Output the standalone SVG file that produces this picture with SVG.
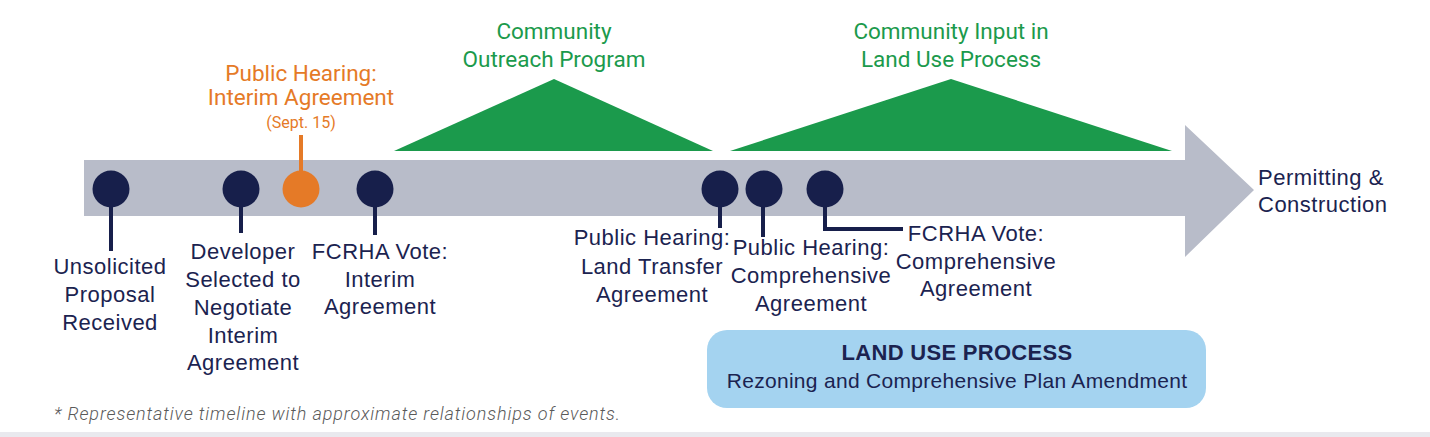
<svg xmlns="http://www.w3.org/2000/svg" width="1430" height="437" viewBox="0 0 1430 437">
<style>
.nv{font-family:"Liberation Sans",Arial,sans-serif;font-size:22px;letter-spacing:0.5px;fill:#1b2350;text-anchor:middle}
.gr{font-family:Roboto,"Liberation Sans",sans-serif;font-size:22.5px;fill:#1b9a4c;text-anchor:middle}
.or{font-family:Roboto,"Liberation Sans",sans-serif;font-size:22.5px;fill:#e57a27;text-anchor:middle}
.dot{fill:#171f4b}
.stem{stroke:#171f4b;stroke-width:4;fill:none}
.tri{fill:#1b9a4c}
</style>
<rect x="0" y="0" width="1430" height="437" fill="#ffffff"/>
<rect x="0" y="432" width="1430" height="5" fill="#e9e9ee"/>
<g id="timeline-arrow">
<polygon points="84,160 1185,160 1185,125 1254,190 1185,257 1185,216 84,216" fill="#b8bcc9"/>
</g>
<g id="outreach">
<polygon class="tri" points="394,151 554,79 713,151"/>
<text class="gr" x="554" y="39">Community</text>
<text class="gr" x="554" y="67">Outreach Program</text>
</g>
<g id="community-input">
<polygon class="tri" points="730,151 951,79 1172,151"/>
<text class="gr" x="951" y="39">Community Input in</text>
<text class="gr" x="951" y="67">Land Use Process</text>
</g>
<g id="connectors">
<line class="stem" x1="111" y1="189" x2="111" y2="251"/>
<line class="stem" x1="241" y1="189" x2="241" y2="233"/>
<line class="stem" x1="375" y1="189" x2="375" y2="235"/>
<line x1="301" y1="189" x2="301" y2="135" stroke="#e57a27" stroke-width="4"/>
<line class="stem" x1="720" y1="189" x2="720" y2="228"/>
<line class="stem" x1="763" y1="189" x2="763" y2="237"/>
<path class="stem" d="M825,189 V229 H903"/>
</g>
<g id="e1">
<circle class="dot" cx="111" cy="189" r="18.5"/>
<text class="nv" x="110" y="274">Unsolicited</text>
<text class="nv" x="110" y="302">Proposal</text>
<text class="nv" x="110" y="330">Received</text>
</g>
<g id="e2">
<circle class="dot" cx="241" cy="189" r="18.5"/>
<text class="nv" x="243" y="259">Developer</text>
<text class="nv" x="243" y="287">Selected to</text>
<text class="nv" x="243" y="315">Negotiate</text>
<text class="nv" x="243" y="343">Interim</text>
<text class="nv" x="243" y="370">Agreement</text>
</g>
<g id="e3">
<circle cx="301" cy="189" r="18.5" fill="#e57a27"/>
<text class="or" x="301" y="81">Public Hearing:</text>
<text class="or" x="301" y="105">Interim Agreement</text>
<text class="or" x="301" y="128" style="font-size:16px">(Sept. 15)</text>
</g>
<g id="e4">
<circle class="dot" cx="375" cy="189" r="18.5"/>
<text class="nv" x="380" y="259">FCRHA Vote:</text>
<text class="nv" x="380" y="287">Interim</text>
<text class="nv" x="380" y="314">Agreement</text>
</g>
<g id="e5">
<circle class="dot" cx="720" cy="189" r="18.5"/>
<text class="nv" x="652" y="245">Public Hearing:</text>
<text class="nv" x="652" y="274">Land Transfer</text>
<text class="nv" x="652" y="302">Agreement</text>
</g>
<g id="e6">
<circle class="dot" cx="764" cy="189" r="18.5"/>
<text class="nv" x="811" y="255">Public Hearing:</text>
<text class="nv" x="811" y="283">Comprehensive</text>
<text class="nv" x="811" y="311">Agreement</text>
</g>
<g id="e7">
<circle class="dot" cx="825" cy="189" r="18.5"/>
<text class="nv" x="976" y="241">FCRHA Vote:</text>
<text class="nv" x="976" y="269">Comprehensive</text>
<text class="nv" x="976" y="296">Agreement</text>
</g>
<g id="permitting">
<text class="nv" x="1258" y="185" style="text-anchor:start">Permitting &amp;</text>
<text class="nv" x="1258" y="212" style="text-anchor:start">Construction</text>
</g>
<g id="land-use">
<rect x="707" y="330" width="499" height="78" rx="20" fill="#a4d3f0"/>
<text class="nv" x="957" y="360" style="font-weight:bold;font-size:22px;letter-spacing:0.3px">LAND USE PROCESS</text>
<text class="nv" x="957" y="388" style="font-size:21px;letter-spacing:0.3px">Rezoning and Comprehensive Plan Amendment</text>
</g>
<text x="54" y="420" font-family="Roboto,'Liberation Sans',sans-serif" font-style="italic" font-weight="300" font-size="18" fill="#5a5a5a" textLength="566" lengthAdjust="spacing">* Representative timeline with approximate relationships of events.</text>
</svg>
